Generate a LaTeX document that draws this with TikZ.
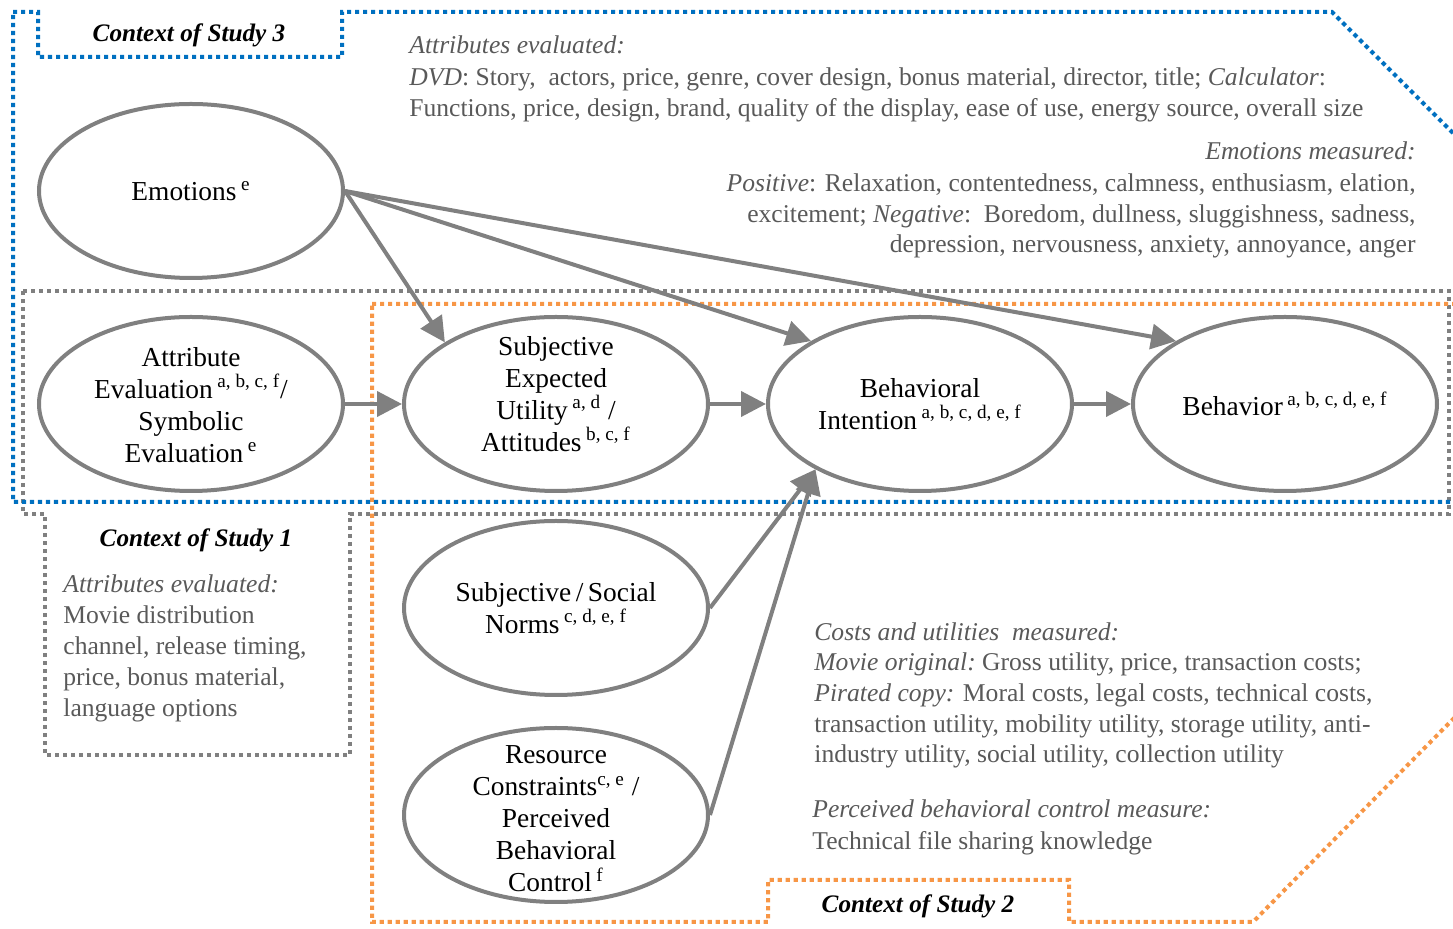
\documentclass[tikz,border=0pt]{standalone}
\usepackage{fontspec}
\setmainfont{Liberation Serif}
\usetikzlibrary{shapes.geometric,arrows.meta}
\definecolor{cblue}{HTML}{0070C0}
\definecolor{cgray}{HTML}{808080}
\definecolor{corange}{HTML}{F79646}
\definecolor{ctext}{HTML}{595959}
\begin{document}
\begin{tikzpicture}[x=0.5pt,y=-0.5pt,
 ell/.style={ellipse,draw=cgray,line width=2pt,minimum width=152pt,minimum height=87pt,inner sep=0pt,fill=white},
 etext/.style={align=center,font=\fontsize{13.7}{16}\selectfont,inner sep=0pt},
 conn/.style={draw=cgray,line width=2pt,-{Triangle[length=12.5pt,width=12.5pt]}},
 bound/.style={line width=2pt,dash pattern=on 2.1pt off 1.9pt},
 gtext/.style={text=ctext,font=\fontsize{12.8}{15.5}\selectfont,inner sep=0pt},
 ttl/.style={font=\fontsize{12.6}{15}\selectfont\bfseries\itshape,inner sep=0pt}]
\useasboundingbox (0,0) rectangle (1453,929);
\clip (0,0) rectangle (1453,929);
% boundaries
\draw[bound,cgray] (23,291) -- (1449,291) -- (1449,514) -- (350,514) -- (350,755) -- (45,755) -- (45,514) -- (23,514) -- cycle;
\draw[bound,corange] (372,304) -- (1460,304) -- (1460,712) -- (1253,922) -- (1069,922) -- (1069,880) -- (768,880) -- (768,922) -- (372,922) -- cycle;
\draw[bound,cblue] (13,12) -- (38,12) -- (38,57) -- (342,57) -- (342,12) -- (1332,12) -- (1470,150) -- (1470,502) -- (13,502) -- cycle;
% ellipses
\node[ell] (emo) at (191,191) {};
\node[ell] (attr) at (191,404) {};
\node[ell] (seu) at (556,404) {};
\node[ell] (bi) at (920,404) {};
\node[ell] (beh) at (1285,404) {};
\node[ell] (norms) at (556,608) {};
\node[ell] (res) at (556,815) {};
\node[etext] (temo) at (emo) {Emotions\,\textsuperscript{e}};
\node[etext] (tattr) at (191,405) {Attribute\\Evaluation\,\textsuperscript{a, b, c, f}/\\Symbolic\\Evaluation\,\textsuperscript{e}};
\node[etext] (tseu) at (556,394) {Subjective\\Expected\\Utility\,\textsuperscript{a, d} /\\Attitudes\,\textsuperscript{b, c, f}};
\node[etext] (tbi) at (bi) {Behavioral\\Intention\,\textsuperscript{a, b, c, d, e, f}};
\node[etext] (tbeh) at (beh) {Behavior\,\textsuperscript{a, b, c, d, e, f}};
\node[etext] (tnorms) at (norms) {Subjective\,/\,Social\\Norms\,\textsuperscript{c, d, e, f}};
\node[etext] (tres) at (556,819) {Resource\\Constraints\textsuperscript{c, e} /\\Perceived\\Behavioral\\Control\,\textsuperscript{f}};
% connectors
\draw[conn] (attr.east) -- (seu.west);
\draw[conn] (seu.east) -- (bi.west);
\draw[conn] (bi.east) -- (beh.west);
\draw[conn] (emo.east) -- (seu.151);
\draw[conn] (emo.east) -- (bi.150);
\draw[conn] (emo.east) -- (beh.150);
\draw[conn] (norms.east) -- (bi.212);
\draw[conn] (res.east) -- (bi.212);
% titles
\node[ttl,anchor=base] (t3) at (189,42) {Context of Study 3};
\node[ttl,anchor=base] (t1) at (196,547) {Context of Study 1};
\node[ttl,anchor=base] (t2) at (918,913) {Context of Study 2};
% top text
\node[gtext,anchor=base west] (a1) at (409,54) {\textit{Attributes evaluated:}};
\node[gtext,anchor=base west] (a2) at (409,86) {\textit{DVD}: Story,\ \ actors, price, genre, cover design, bonus material, director, title; \textit{Calculator}:};
\node[gtext,anchor=base west] (a3) at (409,117) {Functions, price, design, brand, quality of the display, ease of use, energy source, overall size};
% emotions text
\node[gtext,anchor=base east] (e1) at (1416,160) {\textit{Emotions measured:}};
\node[gtext,anchor=base east] (e2) at (1416,192) {\textit{Positive}: Relaxation, contentedness, calmness, enthusiasm, elation,};
\node[gtext,anchor=base east] (e3) at (1416,223) {excitement; \textit{Negative}:\ \ Boredom, dullness, sluggishness, sadness,};
\node[gtext,anchor=base east] (e4) at (1416,253) {depression, nervousness, anxiety, annoyance, anger};
% study 1 text
\node[gtext,anchor=base west] (s1a) at (63,593) {\textit{Attributes evaluated:}};
\node[gtext,anchor=base west] (s1b) at (63,624) {Movie distribution};
\node[gtext,anchor=base west] (s1c) at (63,655) {channel, release timing,};
\node[gtext,anchor=base west] (s1d) at (63,686) {price, bonus material,};
\node[gtext,anchor=base west] (s1e) at (63,717) {language options};
% study 2 text
\node[gtext,anchor=base west] (s2a) at (814,641) {\textit{Costs and utilities\ \ measured:}};
\node[gtext,anchor=base west] (s2b) at (814,671) {\textit{Movie original:}\ Gross utility, price, transaction costs;};
\node[gtext,anchor=base west] (s2c) at (814,702) {\textit{Pirated copy:} Moral costs, legal costs, technical costs,};
\node[gtext,anchor=base west] (s2d) at (814,733) {transaction utility, mobility utility, storage utility, anti-};
\node[gtext,anchor=base west] (s2e) at (814,763) {industry utility, social utility, collection utility};
\node[gtext,anchor=base west] (s2f) at (812,818) {\textit{Perceived behavioral control measure:}};
\node[gtext,anchor=base west] (s2g) at (812,850) {Technical file sharing knowledge};
\end{tikzpicture}
\end{document}
